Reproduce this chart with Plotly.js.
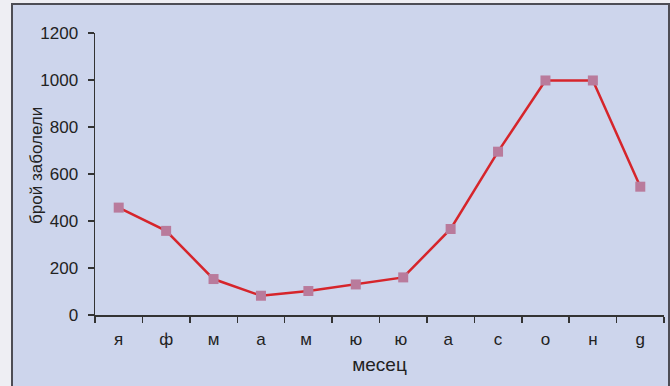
<!DOCTYPE html>
<html>
<head>
<meta charset="utf-8">
<script src="https://cdn.plot.ly/plotly-3.0.1.min.js"></script>
<style>
html,body{margin:0;padding:0;background:#eeeef3;width:670px;height:386px;overflow:hidden;}
#box{position:absolute;left:11px;top:3px;width:655px;height:400px;background:#cdd5ec;border:2px solid #4d4d55;}
#chart{position:absolute;left:0;top:0;width:670px;height:386px;}
</style>
</head>
<body>
<div id="box"></div>
<div id="chart"></div>
<script>
const months = ["я","ф","м","а","м ","ю","ю ","а ","с","о","н","g"];
const cases = [457, 358, 153, 82, 102, 130, 160, 366, 695, 998, 998, 546];
const yTicks = [0, 200, 400, 600, 800, 1000, 1200];
const xTitle = "месец";
const yTitle = "брой заболели";

const trace = {
  x: months,
  y: cases,
  type: "scatter",
  mode: "lines+markers",
  line: {color: "#d6252b", width: 2.5},
  marker: {symbol: "square", size: 10, color: "#b97b9c"},
  hoverinfo: "skip"
};

const layout = {
  width: 670, height: 386,
  margin: {l: 95, r: 6, t: 33, b: 71},
  paper_bgcolor: "rgba(0,0,0,0)",
  plot_bgcolor: "rgba(0,0,0,0)",
  showlegend: false,
  font: {family: "Liberation Sans, Arial, sans-serif", color: "#222"},
  xaxis: {
    type: "category",
    range: [-0.5, 11.5],
    showline: true, linecolor: "#333", linewidth: 1.5,
    ticks: "outside", ticklen: 6, tickcolor: "#333", tickwidth: 1.5,
    tickson: "boundaries",
    showgrid: false, zeroline: false,
    tickfont: {size: 17, color: "#222"},
    ticklabelstandoff: 8,
    title: {text: xTitle, font: {size: 19, color: "#222"}, standoff: 10}
  },
  yaxis: {
    range: [0, 1200],
    tickvals: yTicks,
    showline: true, linecolor: "#333", linewidth: 1.5,
    ticks: "outside", ticklen: 6, tickcolor: "#333", tickwidth: 1.5,
    showgrid: false, zeroline: false,
    tickfont: {size: 17, color: "#222"},
    ticklabelstandoff: 6
  },
  annotations: [{
    text: yTitle,
    xref: "paper", yref: "paper",
    x: -0.102, y: 0.532,
    xanchor: "center", yanchor: "middle",
    textangle: -90,
    showarrow: false,
    font: {size: 17, color: "#222"}
  }]
};

Plotly.newPlot("chart", [trace], layout, {displayModeBar: false, staticPlot: true});
</script>
</body>
</html>
